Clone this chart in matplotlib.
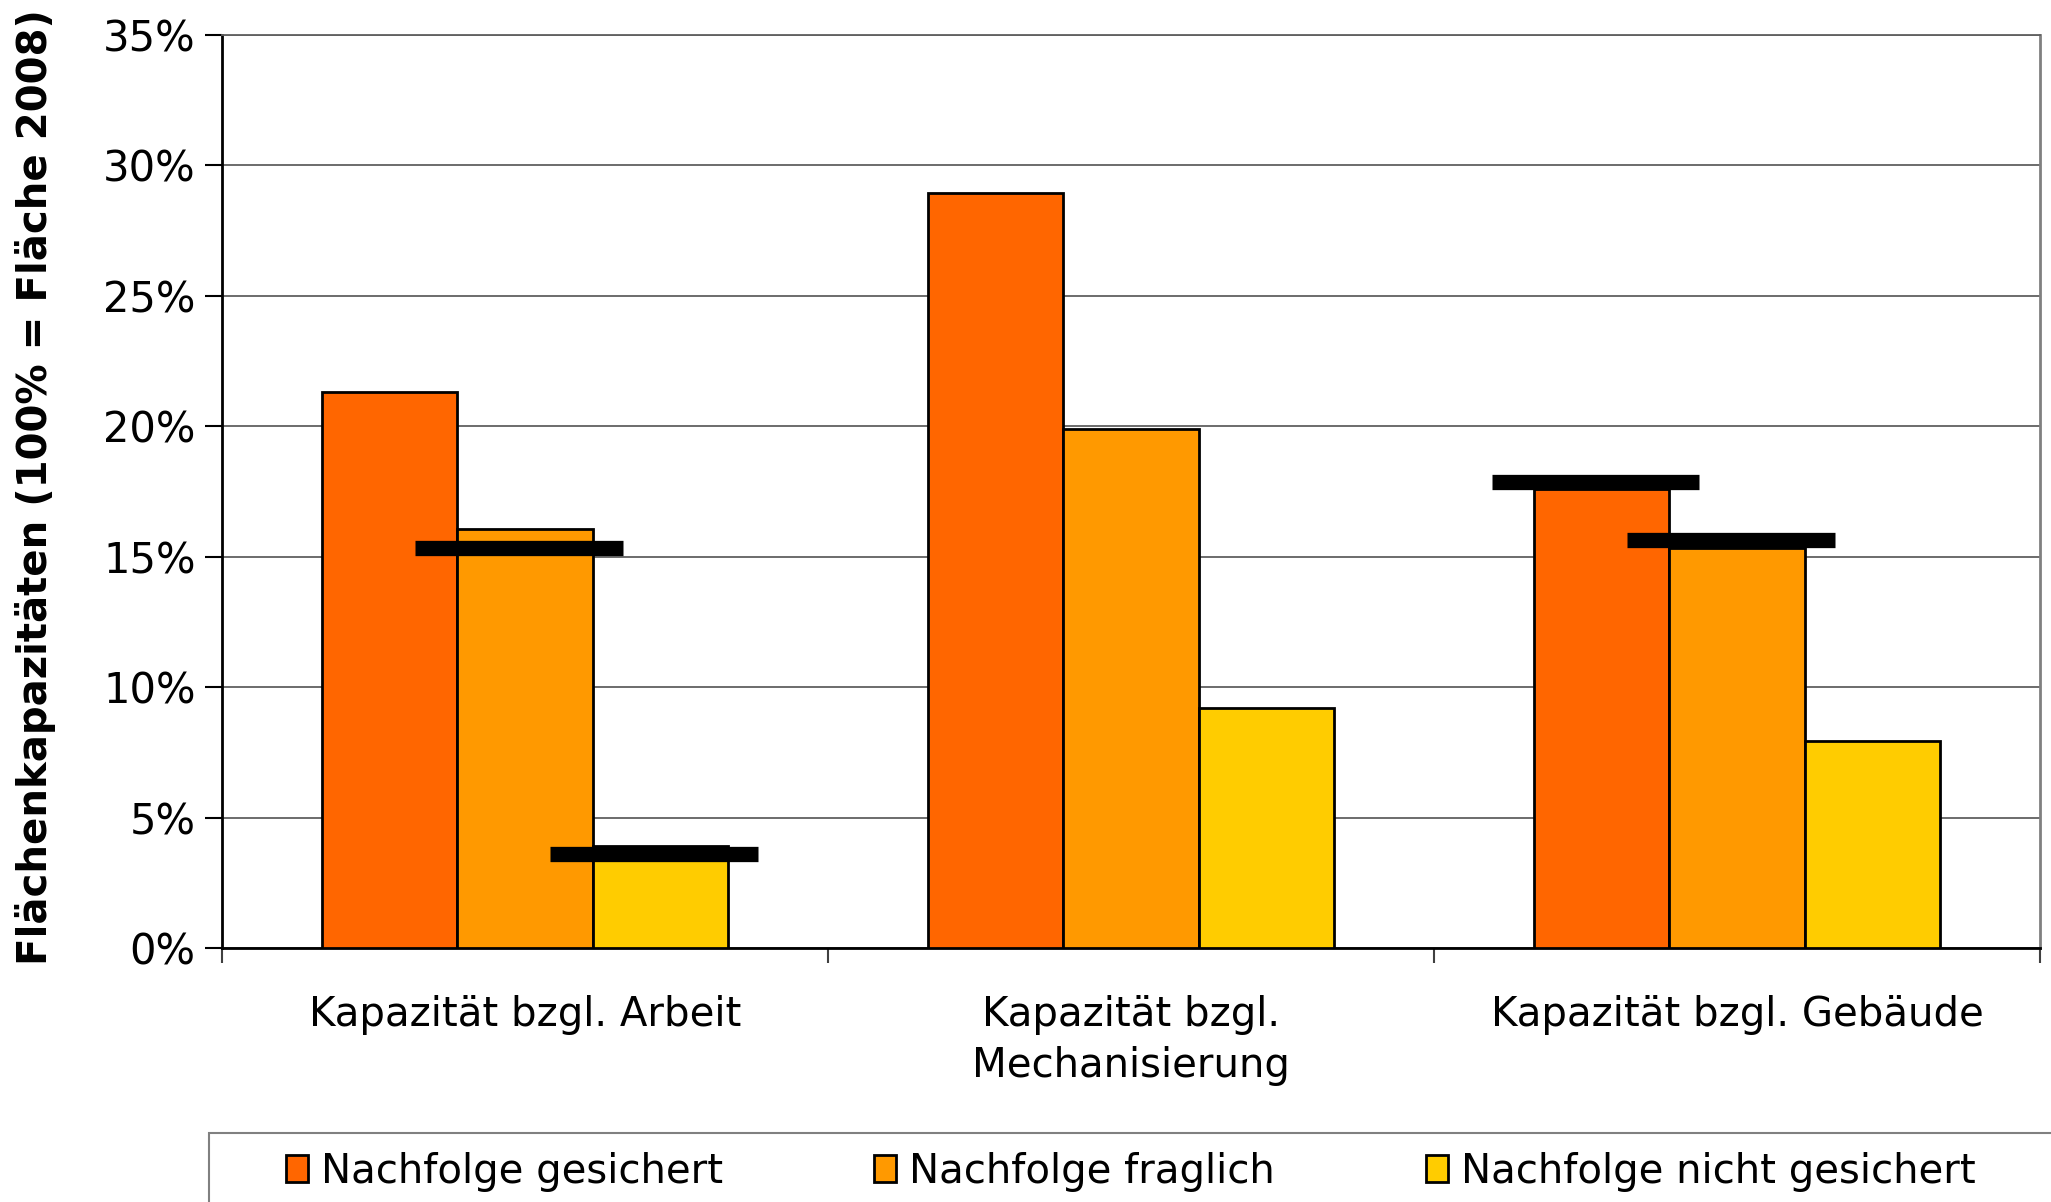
import numpy as np
import matplotlib
matplotlib.use("Agg")
import matplotlib.pyplot as plt
from matplotlib.patches import Patch, Rectangle

plt.rcParams['font.family'] = ['DejaVu Sans']

categories = ["Kapazität bzgl. Arbeit", "Kapazität bzgl.\nMechanisierung", "Kapazität bzgl. Gebäude"]
series = ["Nachfolge gesichert", "Nachfolge fraglich", "Nachfolge nicht gesichert"]
colors = ["#FF6600", "#FF9900", "#FFCC00"]

# shares in percent of the 2008 area
gesichert = [21.3, 28.95, 17.6]
fraglich = [16.05, 19.9, 15.35]
nicht_gesichert = [3.9, 9.2, 7.95]

# reference levels shown as black bars (nan = none)
ref_gesichert = [np.nan, np.nan, 17.85]
ref_fraglich = [15.35, np.nan, 15.65]
ref_nicht_gesichert = [3.6, np.nan, np.nan]

values = [gesichert, fraglich, nicht_gesichert]
refs = [ref_gesichert, ref_fraglich, ref_nicht_gesichert]

W, H = 2051, 1202
fig = plt.figure(figsize=(W / 100, H / 100), dpi=100)
ax = fig.add_axes([222 / W, 1 - 948 / H, (2040 - 222) / W, (948 - 35) / H])

x = np.arange(len(categories))
bw = 0.223
for i, (vals, col) in enumerate(zip(values, colors)):
    ax.bar(x + (i - 1) * bw, vals, bw, color=col, edgecolor="black", linewidth=2, zorder=3)

for i, r in enumerate(refs):
    xc = x + (i - 1) * bw - 0.01
    r = np.array(r)
    ok = ~np.isnan(r)
    ax.hlines(r[ok], xc[ok] - 0.171, xc[ok] + 0.171, color="black", linewidth=11,
              capstyle="butt", zorder=5)

ax.set_xlim(-0.5, 2.5)
ax.set_ylim(0, 35)
ax.set_yticks(np.arange(0, 36, 5))
ax.set_yticklabels([f"{v}%" for v in range(0, 36, 5)])
ax.yaxis.grid(True, color="#606060", linewidth=1.3, zorder=0)
ax.set_axisbelow(True)

ax.set_xticks(x)
ax.set_xticklabels(categories, fontsize=29, linespacing=1.35)
ax.set_xticks([-0.5, 0.5, 1.5, 2.5], minor=True)
ax.tick_params(axis="x", which="major", length=0, pad=34)
ax.tick_params(axis="x", which="minor", length=11, width=1.5, color="#404040")
ax.tick_params(axis="y", labelsize=30, length=12, width=1.5, pad=7)

ax.spines["left"].set_linewidth(2)
ax.spines["bottom"].set_linewidth(2)
ax.spines["right"].set_color("#808080")
ax.spines["right"].set_linewidth(2)
ax.spines["top"].set_color("#606060")
ax.spines["top"].set_linewidth(1.3)

fig.text(36 / W, 1 - 487 / H, "Flächenkapazitäten (100% = Fläche 2008)", rotation=90,
         fontsize=29, fontweight="bold", ha="center", va="center")

# legend frame runs off the bottom edge
fig.patches.append(Rectangle((209 / W, -0.05), 1.0, 0.05 + 1 - 1133 / H, transform=fig.transFigure,
                             facecolor="white", edgecolor="#808080", linewidth=1.5))
handles = [Patch(facecolor=c, edgecolor="black", linewidth=2) for c in colors]
fig.legend(handles, series, loc="center left", bbox_to_anchor=(286 / W, 1 - 1172 / H),
           ncol=3, frameon=False, fontsize=29, handlelength=0.55, handleheight=0.65,
           handletextpad=0.32, columnspacing=3.75, borderpad=0, borderaxespad=0)

fig.savefig("out.png", dpi=100)
